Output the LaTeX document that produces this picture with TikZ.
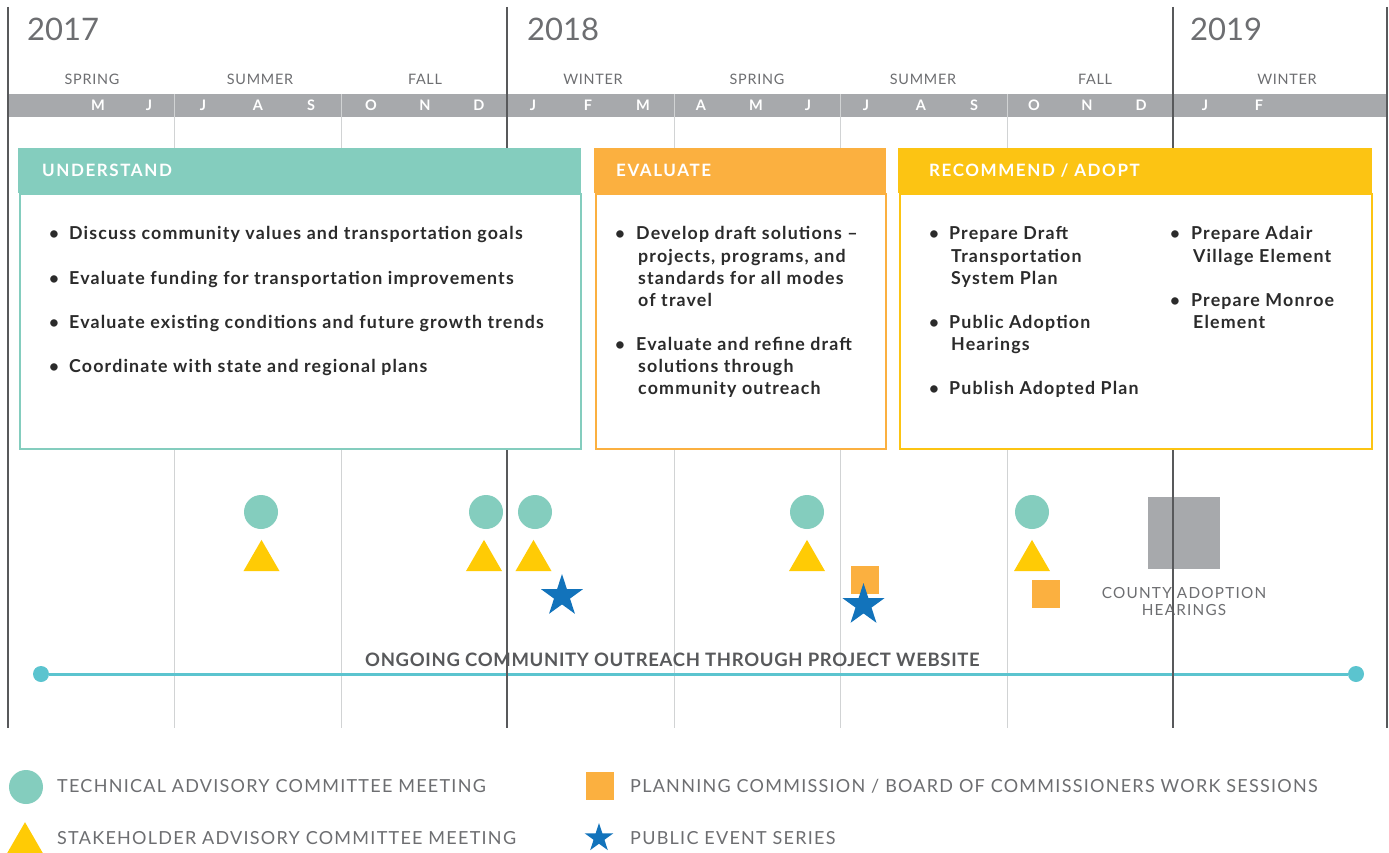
\documentclass[tikz,border=0pt]{standalone}
\usepackage{fontspec}
\setmainfont{Lato}
\newfontfamily\bodyfont[LetterSpace=6.5]{Lato}
\newfontfamily\hdrfont[LetterSpace=9.3]{Lato}
\newfontfamily\legfont[LetterSpace=7]{Lato}
\newfontfamily\seasonfont[LetterSpace=5]{Lato}
\newfontfamily\countyfont[LetterSpace=8]{Lato}
\newfontfamily\outfont[LetterSpace=3.6]{Lato}
\usetikzlibrary{shapes.geometric}
\definecolor{cTeal}{HTML}{84CDBE}
\definecolor{cOrange}{HTML}{FBB040}
\definecolor{cYellow}{HTML}{FCC413}
\definecolor{cTri}{HTML}{FFCB05}
\definecolor{cBlue}{HTML}{1273BB}
\definecolor{cBar}{HTML}{A7A9AC}
\definecolor{cDark}{HTML}{58595B}
\definecolor{cLight}{HTML}{D1D3D4}
\definecolor{cText}{HTML}{2B2B2B}
\definecolor{cGrayText}{HTML}{6D6E71}
\definecolor{cLine}{HTML}{5BC4CF}
\begin{document}
\begin{tikzpicture}[x=1pt,y=-1pt,
  darkline/.style={cDark,line width=1.2pt},
  lightline/.style={cLight,line width=1pt},
  year/.style={anchor=base west,inner sep=0,text=cGrayText,font=\fontsize{31}{31}\selectfont},
  season/.style={anchor=base,inner sep=0,text=cGrayText,font=\seasonfont\fontsize{14.4}{14.4}\selectfont},
  month/.style={anchor=base,inner sep=0,text=white,font=\fontsize{14.5}{14.5}\selectfont\bfseries},
  hdrbox/.style={anchor=north west,inner sep=0,minimum height=45pt},
  bodybox/.style={anchor=north west,inner sep=0,fill=white,line width=2pt},
  hdrtext/.style={anchor=base west,inner sep=0,text=white,font=\hdrfont\fontsize{17}{17}\selectfont\bfseries},
  bodytext/.style={anchor=base west,inner sep=0,text=cText,font=\bodyfont\fontsize{17.8}{17.8}\selectfont\bfseries},
  bul/.style={anchor=base,inner sep=0,text=cText,font=\fontsize{17}{17}\selectfont\bfseries},
  tac/.style={circle,fill=cTeal,minimum size=34pt,inner sep=0},
  sac/.style={regular polygon,regular polygon sides=3,fill=cTri,minimum size=41.6pt,inner sep=0},
  pcsq/.style={rectangle,fill=cOrange,minimum size=28pt,inner sep=0},
  pub/.style={star,star points=5,star point ratio=2.618,fill=cBlue,minimum size=44pt,inner sep=0},
  dot/.style={circle,fill=cLine,minimum size=16pt,inner sep=0},
  legtext/.style={anchor=base west,inner sep=0,text=cGrayText,font=\legfont\fontsize{18}{18}\selectfont}
]
\useasboundingbox (0,0) rectangle (1389,853);
\fill[white] (0,0) rectangle (1389,853);

% county adoption square (under the grid lines)
\node[rectangle,fill=cBar,minimum size=72pt,inner sep=0] (county) at (1184,533) {};

% month bar
\fill[cBar] (8,94) rectangle (1387,117);

% grid lines
\foreach \x in {174,341,674,840,1007} \draw[lightline] (\x,94) -- (\x,728);
\foreach \x in {8,507,1173,1387} \draw[darkline] (\x,7) -- (\x,728);

% years
\node[year] (y17) at (27,41) {2017};
\node[year] (y18) at (527,41) {2018};
\node[year] (y19) at (1190,41) {2019};

% seasons
\node[season] (s1) at (92,84.3) {SPRING};
\node[season] (s2) at (260,84.3) {SUMMER};
\node[season] (s3) at (425,84.3) {FALL};
\node[season] (s4) at (593,84.3) {WINTER};
\node[season] (s5) at (757,84.3) {SPRING};
\node[season] (s6) at (923,84.3) {SUMMER};
\node[season] (s7) at (1095,84.3) {FALL};
\node[season] (s8) at (1287,84.3) {WINTER};

% months
\node[month] (m1) at (98,111) {M};
\node[month] (m2) at (149,111) {J};
\node[month] (m3) at (203,111) {J};
\node[month] (m4) at (258,111) {A};
\node[month] (m5) at (311,111) {S};
\node[month] (m6) at (371,111) {O};
\node[month] (m7) at (425,111) {N};
\node[month] (m8) at (479,111) {D};
\node[month] (m9) at (533,111) {J};
\node[month] (m10) at (588,111) {F};
\node[month] (m11) at (643,111) {M};
\node[month] (m12) at (701,111) {A};
\node[month] (m13) at (756,111) {M};
\node[month] (m14) at (808,111) {J};
\node[month] (m15) at (866,111) {J};
\node[month] (m16) at (921,111) {A};
\node[month] (m17) at (974,111) {S};
\node[month] (m18) at (1034,111) {O};
\node[month] (m19) at (1087,111) {N};
\node[month] (m20) at (1141,111) {D};
\node[month] (m21) at (1205,111) {J};
\node[month] (m22) at (1259,111) {F};

% UNDERSTAND box
\node[bodybox,draw=cTeal,minimum width=561pt,minimum height=255pt] (uB) at (19,193) {};
\node[hdrbox,fill=cTeal,minimum width=563pt] (uH) at (18,148) {};
\node[hdrtext] (uT) at (42,177) {UNDERSTAND};
\foreach \yy in {240,284,328,372} \node[bul] at (54,\yy) {•};
\node[bodytext] (u1) at (69,240) {Discuss community values and transportation goals};
\node[bodytext] (u2) at (69,284) {Evaluate funding for transportation improvements};
\node[bodytext] (u3) at (69,328) {Evaluate existing conditions and future growth trends};
\node[bodytext] (u4) at (69,372) {Coordinate with state and regional plans};

% EVALUATE box
\node[bodybox,draw=cOrange,minimum width=290pt,minimum height=255pt] (eB) at (595,193) {};
\node[hdrbox,fill=cOrange,minimum width=292pt] (eH) at (594,148) {};
\node[hdrtext] (eT) at (616,177) {EVALUATE};
\foreach \yy in {240,350} \node[bul] at (620,\yy) {•};
\node[bodytext] (e1) at (636,240) {Develop draft solutions –};
\node[bodytext] (e2) at (638,262) {projects, programs, and};
\node[bodytext] (e3) at (638,284) {standards for all modes};
\node[bodytext] (e4) at (638,306) {of travel};
\node[bodytext] (e5) at (636,350) {Evaluate and refine draft};
\node[bodytext] (e6) at (638,372) {solutions through};
\node[bodytext] (e7) at (638,394) {community outreach};

% RECOMMEND / ADOPT box
\node[bodybox,draw=cYellow,minimum width=472pt,minimum height=255pt] (rB) at (899,193) {};
\node[hdrbox,fill=cYellow,minimum width=474pt] (rH) at (898,148) {};
\node[hdrtext] (rT) at (929,177) {RECOMMEND / ADOPT};
\foreach \yy in {240,328,394} \node[bul] at (934,\yy) {•};
\foreach \yy in {240,306} \node[bul] at (1175,\yy) {•};
\node[bodytext] (r1) at (949,240) {Prepare Draft};
\node[bodytext] (r2) at (951,262) {Transportation};
\node[bodytext] (r3) at (951,284) {System Plan};
\node[bodytext] (r4) at (949,328) {Public Adoption};
\node[bodytext] (r5) at (951,350) {Hearings};
\node[bodytext] (r6) at (949,394) {Publish Adopted Plan};
\node[bodytext] (r7) at (1191,240) {Prepare Adair};
\node[bodytext] (r8) at (1193,262) {Village Element};
\node[bodytext] (r9) at (1191,306) {Prepare Monroe};
\node[bodytext] (r10) at (1193,328) {Element};

% markers: technical advisory committee
\node[tac] (t1) at (261,512) {};
\node[tac] (t2) at (486,512) {};
\node[tac] (t3) at (535,512) {};
\node[tac] (t4) at (807,512) {};
\node[tac] (t5) at (1032,512) {};
% stakeholder advisory committee
\node[sac] (k1) at (261.5,560.7) {};
\node[sac] (k2) at (484,560.7) {};
\node[sac] (k3) at (533.5,560.7) {};
\node[sac] (k4) at (807,560.7) {};
\node[sac] (k5) at (1032,560.7) {};
% work sessions
\node[pcsq] (w1) at (865,580) {};
\node[pcsq] (w2) at (1046,594) {};
% public events
\node[pub] (p1) at (562,596) {};
\node[pub] (p2) at (863.5,605) {};

% county text
\node[anchor=base,inner sep=0,text=cGrayText,font=\countyfont\fontsize{15.3}{15.3}\selectfont] (ct1) at (1184,598.5) {COUNTY ADOPTION};
\node[anchor=base,inner sep=0,text=cGrayText,font=\countyfont\fontsize{15.3}{15.3}\selectfont] (ct2) at (1184,615.5) {HEARINGS};
\draw[darkline] (1173,497) -- (1173,620);

% ongoing outreach
\node[dot] (o1) at (41,674) {};
\node[dot] (o2) at (1356,674) {};
\draw[cLine,line width=3pt] (o1) -- (o2);
\draw[darkline] (1173,670) -- (1173,678);
\draw[darkline] (507,670) -- (507,678);
\node[anchor=base west,inner sep=0,text=cDark,font=\outfont\fontsize{18.5}{18.5}\selectfont\bfseries] (ot) at (365,666.7) {ONGOING COMMUNITY OUTREACH THROUGH PROJECT WEBSITE};

% legend
\node[tac] (lt) at (26,787) {};
\node[legtext] (ltt) at (57,792.5) {TECHNICAL ADVISORY COMMITTEE MEETING};
\node[sac] (ls) at (25,843) {};
\node[legtext] (lst) at (57,844.5) {STAKEHOLDER ADVISORY COMMITTEE MEETING};
\node[pcsq] (lp) at (600,786) {};
\node[legtext] (lpt) at (630,792.5) {PLANNING COMMISSION / BOARD OF COMMISSIONERS WORK SESSIONS};
\node[star,star points=5,star point ratio=2.618,fill=cBlue,minimum size=30pt,inner sep=0] (lb) at (599,838) {};
\node[legtext] (lbt) at (630,844.5) {PUBLIC EVENT SERIES};
\end{tikzpicture}
\end{document}
